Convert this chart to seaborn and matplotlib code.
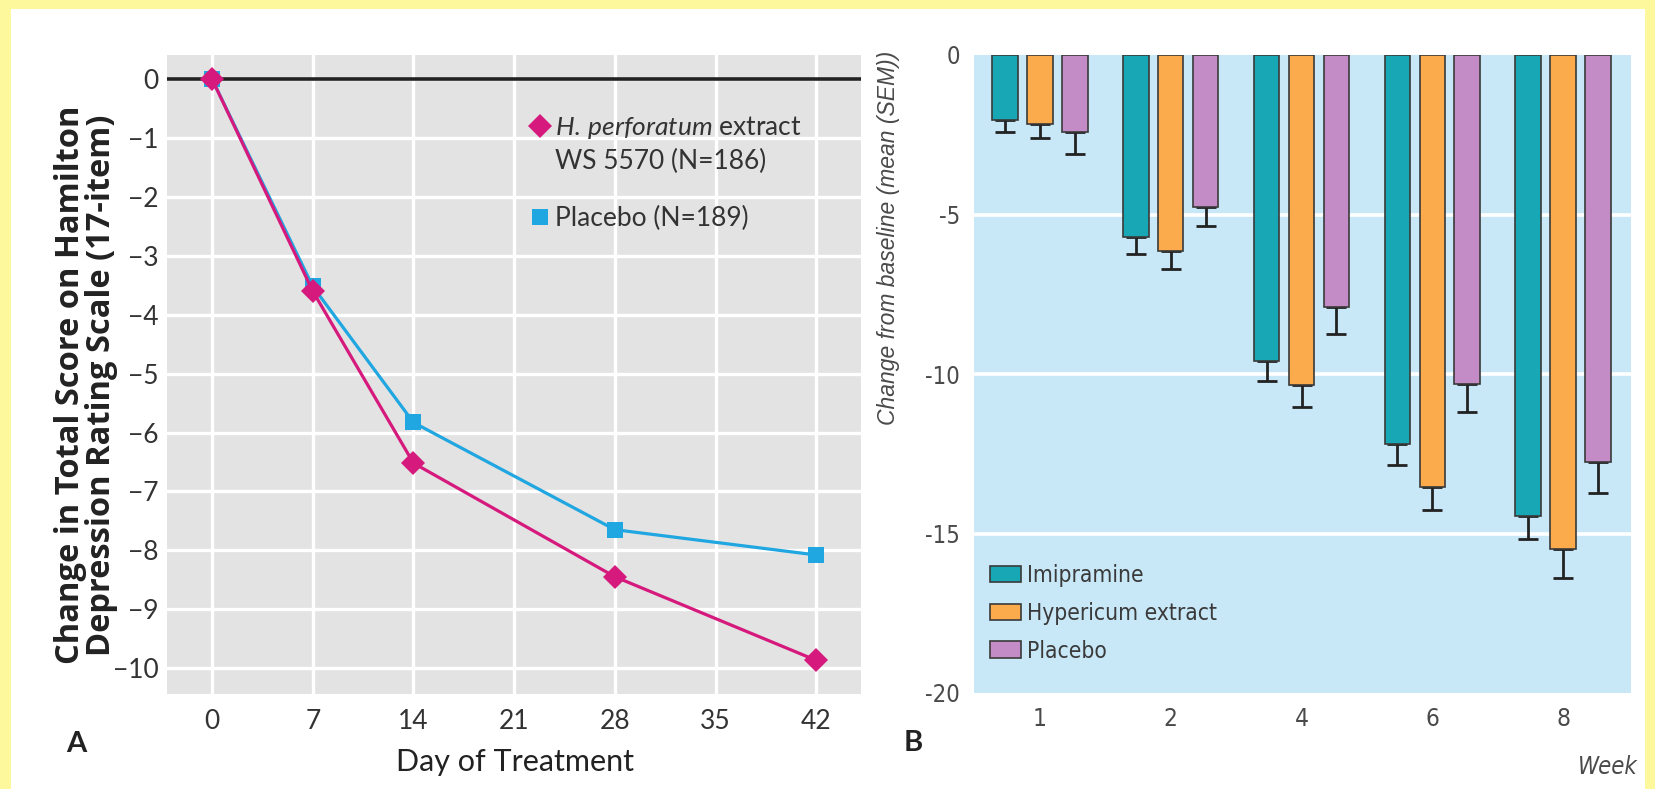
import matplotlib
matplotlib.use("Agg")
import matplotlib.pyplot as plt
from matplotlib import font_manager as fm
from matplotlib.lines import Line2D
from matplotlib.patches import Rectangle
import seaborn as sns
import pandas as pd

# ---------------- data ----------------
days = [0, 7, 14, 28, 42]
hyper_line = [0.0, -3.6, -6.52, -8.45, -9.87]
placebo_line = [0.0, -3.52, -5.83, -7.65, -8.08]

weeks = ["1", "2", "4", "6", "8"]
bar_groups = ["Imipramine", "Hypericum extract", "Placebo"]
imipramine = [-2.05, -5.7, -9.6, -12.2, -14.45]
hypericum = [-2.15, -6.15, -10.35, -13.55, -15.5]
placebo_bar = [-2.4, -4.75, -7.9, -10.3, -12.75]
imipramine_sem = [0.35, 0.55, 0.62, 0.65, 0.72]
hypericum_sem = [0.45, 0.57, 0.68, 0.72, 0.9]
placebo_sem = [0.7, 0.62, 0.85, 0.9, 0.97]

a_xticks = [0, 7, 14, 21, 28, 35, 42]
a_yticks = [0, -1, -2, -3, -4, -5, -6, -7, -8, -9, -10]
b_yticks = [0, -5, -10, -15, -20]
b_yticklabels = ["0", "-5", "-10", "-15", "-20"]

# ---------------- style ----------------
sns.set_theme(style="white")
plt.rcParams["font.family"] = ["Lato", "DejaVu Sans"]
plt.rcParams["mathtext.fontset"] = "custom"
plt.rcParams["mathtext.it"] = "Lato:italic"
plt.rcParams["mathtext.rm"] = "Lato"

# pick a condensed face for panel B if one is installed
_fonts = fm.fontManager.ttflist
_names = {f.name for f in _fonts}
if "Liberation Sans Narrow" in _names:
    NARROW = dict(family=["Liberation Sans Narrow", "DejaVu Sans"], stretch="normal", scale=1.0)
elif any(f.name == "DejaVu Sans" and f.stretch == "condensed" for f in _fonts):
    NARROW = dict(family=["DejaVu Sans"], stretch="condensed", scale=0.95)
else:
    NARROW = dict(family=["Roboto", "DejaVu Sans"], stretch="normal", scale=0.9)


def nfont(size, **kw):
    d = dict(family=NARROW["family"], stretch=NARROW["stretch"],
             size=size * NARROW["scale"])
    d.update(kw)
    return fm.FontProperties(**d)


W, H = 1656, 789
fig = plt.figure(figsize=(W / 100, H / 100), dpi=100)
fig.patch.set_facecolor("#fdf89c")
fig.patches.append(Rectangle((11 / W, 0), (1645 - 11) / W, 1 - 9 / H,
                             transform=fig.transFigure, facecolor="white",
                             edgecolor="none", zorder=-10))


def ax_rect(l, t, r, b):
    return [l / W, 1 - b / H, (r - l) / W, (b - t) / H]


# ---------------- panel A ----------------
axA = fig.add_axes(ax_rect(167, 55, 861, 694))
axA.set_facecolor("#e3e3e3")
dfA = pd.DataFrame({
    "day": days * 2,
    "change": placebo_line + hyper_line,
    "group": ["Placebo"] * len(days) + ["H. perforatum"] * len(days),
})
pal_a = {"H. perforatum": "#d6197c", "Placebo": "#20a6e0"}
sns.lineplot(data=dfA, x="day", y="change", hue="group", style="group",
             hue_order=["Placebo", "H. perforatum"],
             style_order=["Placebo", "H. perforatum"],
             markers={"Placebo": "s", "H. perforatum": "D"}, dashes=False,
             palette=pal_a, linewidth=2.3, markersize=12, markeredgewidth=0,
             legend=False, ax=axA, zorder=3)
axA.axhline(0, color="#222222", lw=2.6, zorder=2)
axA.set_xlim(-3.13, 45.1)
axA.set_ylim(-10.44, 0.41)
axA.set_xticks(a_xticks)
axA.set_yticks(a_yticks)
axA.grid(True, color="white", lw=2.4)
axA.set_axisbelow(True)
for s in axA.spines.values():
    s.set_visible(False)
axA.tick_params(axis="x", length=0, pad=11, labelsize=19, labelcolor="#333333")
axA.tick_params(axis="y", length=0, pad=6, labelsize=19, labelcolor="#333333")
axA.set_xlabel("")
axA.set_ylabel("")
fig.text(515 / W, 1 - 762 / H, "Day of Treatment", ha="center", va="center",
         fontsize=22, color="#222222")
fig.text(86 / W, 1 - 385 / H,
         "Change in Total Score on Hamilton\nDepression Rating Scale (17-item)",
         rotation=90, ha="center", va="center", multialignment="center",
         fontsize=23.5, fontweight="bold", family=["Open Sans", "DejaVu Sans"],
         color="#222222", linespacing=0.92)
fig.text(76 / W, 1 - 744 / H, "A", ha="center", va="center",
         fontsize=21, fontweight="bold", color="#222222")

h1 = Line2D([], [], ls="none", marker="D", ms=12, mew=0, color=pal_a["H. perforatum"])
h_blank = Line2D([], [], ls="none", marker=None)
h2 = Line2D([], [], ls="none", marker="s", ms=12, mew=0, color=pal_a["Placebo"])
leg1 = axA.legend([h1, h_blank],
                  [r"$\it{H.\,perforatum}$ extract", "WS 5570 (N=186)"],
                  loc="upper left", bbox_to_anchor=(529 / W, 1 - 114 / H),
                  bbox_transform=fig.transFigure, frameon=False, fontsize=19,
                  handlelength=0.8, handletextpad=0.2, labelspacing=0.3,
                  borderpad=0, borderaxespad=0, labelcolor="#333333")
axA.add_artist(leg1)
axA.legend([h2], ["Placebo (N=189)"], loc="upper left",
           bbox_to_anchor=(529 / W, 1 - 206 / H), bbox_transform=fig.transFigure,
           frameon=False, fontsize=19, handlelength=0.8, handletextpad=0.2,
           borderpad=0, borderaxespad=0, labelcolor="#333333")

# ---------------- panel B ----------------
axB = fig.add_axes(ax_rect(974, 55, 1631, 693))
axB.set_facecolor("#c8e8f8")
dfB = pd.DataFrame({
    "week": weeks * 3,
    "change": imipramine + hypericum + placebo_bar,
    "group": [g for g in bar_groups for _ in weeks],
})
pal_b = {"Imipramine": "#17a7b5", "Hypericum extract": "#fbab4c", "Placebo": "#c48cc6"}
sns.barplot(data=dfB, x="week", y="change", hue="group", order=weeks,
            hue_order=bar_groups, palette=pal_b, saturation=1, gap=0.27,
            errorbar=None, edgecolor="#3a3a3a", linewidth=1.2, legend=False,
            ax=axB, zorder=2)
bar_containers = list(axB.containers)
sems = [imipramine_sem, hypericum_sem, placebo_sem]
for cont, sem in zip(bar_containers, sems):
    for bar, s in zip(cont.patches, sem):
        x = bar.get_x() + bar.get_width() / 2
        y = bar.get_y() + bar.get_height()
        axB.errorbar(x, y, yerr=[[s], [0]], fmt="none", ecolor="#222222",
                     elinewidth=2, capsize=7, capthick=2, zorder=1.5)
axB.set_xlim(-0.505, 4.52)
axB.set_ylim(-20, 0)
axB.set_yticks(b_yticks)
axB.set_yticklabels(b_yticklabels, fontproperties=nfont(18), color="#4a4a4a")
axB.set_xticks(range(len(weeks)))
axB.set_xticklabels(weeks, fontproperties=nfont(18.5), color="#4a4a4a")
axB.yaxis.grid(True, color="white", lw=2.6)
axB.xaxis.grid(False)
axB.set_axisbelow(True)
for gl, v in zip(axB.get_ygridlines(), b_yticks):
    if v in (0, -20):
        gl.set_visible(False)
for s in axB.spines.values():
    s.set_visible(False)
axB.tick_params(axis="x", direction="in", length=16, width=2.5, color="white", pad=10)
axB.tick_params(axis="y", length=0, pad=10)
axB.set_xlabel("")
axB.set_ylabel("")
fig.text(889 / W, 1 - 51 / H, "Change from baseline (mean (SEM))", rotation=90,
         ha="center", va="top", fontsize=16.5, style="italic",
         family=["Liberation Sans", "DejaVu Sans"], color="#4a4a4a")
fig.text(1608 / W, 1 - 767 / H, "Week", ha="center", va="center",
         fontproperties=nfont(18, style="italic"), color="#4a4a4a")
fig.text(913 / W, 1 - 743 / H, "B", ha="center", va="center", fontsize=21,
         fontweight="bold", color="#222222")
handles_b = [c.patches[0] for c in bar_containers]
axB.legend(handles_b, bar_groups, loc="upper left",
           bbox_to_anchor=(990 / W, 1 - 564 / H), bbox_transform=fig.transFigure,
           frameon=False, prop=nfont(17.2),
           handlelength=1.35, handleheight=0.75, handletextpad=0.3,
           labelspacing=0.65, borderpad=0, borderaxespad=0, labelcolor="#3a3a3a")

fig.savefig("out.png", dpi=100)
